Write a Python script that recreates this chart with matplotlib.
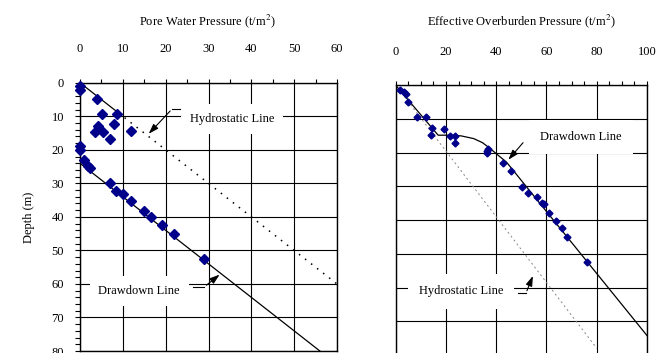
import matplotlib
matplotlib.use("Agg")
import matplotlib.pyplot as plt
from matplotlib.ticker import MultipleLocator

plt.rcParams['font.family'] = ['Liberation Serif', 'DejaVu Serif']
plt.rcParams['mathtext.fontset'] = 'stix'

# pore water pressure (t/m2) vs depth (m)
pwp_x = [0, 0, 4.0, 5.1, 8.6, 4.1, 8.0, 3.5, 5.4, 11.9, 7.0, 0, 0, 0.9, 1.9, 2.3,
         6.9, 8.5, 10.0, 11.9, 14.9, 16.5, 19.2, 22.0, 29.0]
pwp_depth = [1.1, 2.1, 4.9, 9.4, 9.4, 12.8, 12.3, 14.8, 14.8, 14.3, 16.8, 19.0, 20.0, 23.0, 24.7, 25.3,
             30.0, 32.2, 33.2, 35.3, 38.2, 40.0, 42.5, 45.0, 52.5]

# effective overburden pressure (t/m2) vs depth (m)
eff_x = [1.7, 3.3, 4.1, 5.0, 8.3, 11.9, 14.3, 13.9, 19.2, 21.5, 23.6, 23.6, 36.2, 36.8, 36.2,
         42.5, 45.8, 50.1, 52.7, 56.2, 58.3, 59.1, 61.1, 63.7, 66.0, 68.2, 76.2]
eff_depth = [1.4, 2.1, 2.6, 5.0, 9.5, 9.5, 12.6, 14.7, 13.0, 15.1, 15.1, 17.0, 19.4, 19.0, 20.2,
             23.0, 25.3, 30.1, 32.0, 33.0, 34.9, 35.1, 38.0, 40.2, 42.4, 45.1, 52.3]

# reference lines
hydro_solid_x = [0, 9]
hydro_solid_d = [0, 9]
hydro_dot_x = [9, 60]
hydro_dot_d = [9, 60]
draw_x = [0, 56]
draw_d = [24, 80]

eff_hydro_x = [0, 80]
eff_hydro_d = [0, 78]
eff_draw_x = [0, 16.9, 21, 26, 31, 34.5, 37.5, 40.2, 44.1, 100.4]
eff_draw_d = [0, 14.8, 14.8, 15.0, 15.8, 17.0, 18.7, 20.4, 22.8, 74.6]

W, H = 670, 353
fig = plt.figure(figsize=(W / 100, H / 100), dpi=100)
ax1 = fig.add_axes([80 / W, 1 - 351 / H, (337 - 80) / W, (351 - 82.8) / H])
ax2 = fig.add_axes([395.7 / W, 1 - 355 / H, (647 - 395.7) / W, (355 - 85.3) / H])

mcol = '#00008B'
fs = 9

for ax in (ax1, ax2):
    ax.set_ylim(80, 0)
    ax.xaxis.tick_top()
    ax.set_axisbelow(True)
    ax.grid(True, which='major', color='black', lw=0.8)
    for s in ax.spines.values():
        s.set_linewidth(1.0)
    ax.tick_params(axis='x', which='both', direction='out', length=3, width=0.8,
                   pad=17, labelsize=fs, top=True, bottom=False)

# left panel
ax1.set_xlim(0, 60)
ax1.xaxis.set_major_locator(MultipleLocator(10))
ax1.xaxis.set_minor_locator(MultipleLocator(5))
ax1.yaxis.set_major_locator(MultipleLocator(10))
ax1.yaxis.set_minor_locator(MultipleLocator(2))
ax1.tick_params(axis='y', which='both', direction='out', length=3.4, width=0.8,
                pad=8, labelsize=fs)
ax1.plot(hydro_solid_x, hydro_solid_d, color='black', lw=0.9)
ax1.plot(hydro_dot_x, hydro_dot_d, color='black', lw=1.1, ls=(0, (1, 4)))
ax1.plot(draw_x, draw_d, color='black', lw=0.9)
ax1.plot(pwp_x, pwp_depth, ls='none', marker='D', ms=5.0, color=mcol, clip_on=False, zorder=4)

bb = dict(boxstyle='square,pad=0.7', fc='white', ec='none')
ax1.text(35.5, 10.8, 'Hydrostatic Line', fontsize=fs, ha='center', va='center', bbox=bb, zorder=5)
ax1.plot([23.3, 21.5], [7.8, 7.8], color='black', lw=0.8, zorder=6)
ax1.annotate('', xy=(15.6, 15.8), xytext=(21.5, 7.8),
             arrowprops=dict(arrowstyle='-|>,head_length=0.6,head_width=0.2', color='black', lw=0.8),
             zorder=6)
ax1.text(13.8, 62.1, 'Drawdown Line', fontsize=fs, ha='center', va='center', bbox=bb, zorder=5)
ax1.plot([26.4, 29.0], [60.9, 60.9], color='black', lw=0.8, zorder=6)
ax1.annotate('', xy=(33.1, 56.7), xytext=(29.0, 60.9),
             arrowprops=dict(arrowstyle='-|>,head_length=0.6,head_width=0.2', color='black', lw=0.8),
             zorder=6)
ax1.set_ylabel('Depth (m)', fontsize=fs, labelpad=12)

# right panel
ax2.set_xlim(0, 100)
ax2.xaxis.set_major_locator(MultipleLocator(20))
ax2.xaxis.set_minor_locator(MultipleLocator(5))
ax2.yaxis.set_major_locator(MultipleLocator(10))
ax2.tick_params(axis='y', which='both', left=False, labelleft=False)
ax2.plot(eff_hydro_x, eff_hydro_d, color='#888888', lw=0.7, ls=(0, (2, 3)))
ax2.plot(eff_draw_x, eff_draw_d, color='black', lw=0.9)
ax2.plot(eff_x, eff_depth, ls='none', marker='D', ms=3.5, color=mcol, clip_on=False, zorder=4)

bb2 = dict(boxstyle='square,pad=0.9', fc='white', ec='none')
ax2.text(73.6, 15.3, 'Drawdown Line', fontsize=fs, ha='center', va='center', bbox=bb2, zorder=5)
ax2.annotate('', xy=(44.1, 22.7), xytext=(51.4, 16.4),
             arrowprops=dict(arrowstyle='-|>,head_length=0.6,head_width=0.2', color='black', lw=0.8),
             zorder=6)
ax2.text(26, 61.1, 'Hydrostatic Line', fontsize=fs, ha='center', va='center', bbox=bb2, zorder=5)
ax2.plot([48.7, 51.8], [61.7, 61.7], color='black', lw=0.8, zorder=6)
ax2.annotate('', xy=(55, 55.8), xytext=(51.8, 61.7),
             arrowprops=dict(arrowstyle='-|>,head_length=0.6,head_width=0.2', color='black', lw=0.8),
             zorder=6)

fig.text(207 / W, 1 - 21 / H, 'Pore Water Pressure (t/m$^{2}$)', fontsize=fs, ha='center', va='center')
fig.text(521 / W, 1 - 21 / H, 'Effective Overburden Pressure (t/m$^{2}$)', fontsize=fs, ha='center', va='center')

fig.savefig('out.png', dpi=100)
